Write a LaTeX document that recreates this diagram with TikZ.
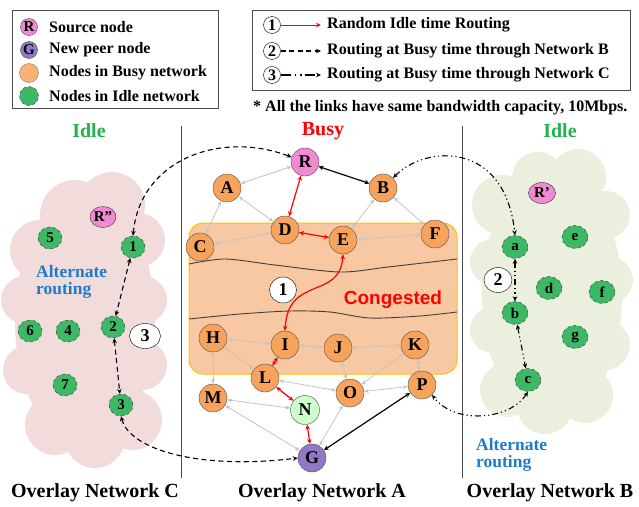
\documentclass[tikz,border=0pt]{standalone}
\usepackage{fontspec}
\setmainfont{Liberation Serif}
\newfontfamily\sansbf{Liberation Sans}
\usetikzlibrary{arrows.meta,shapes.geometric}
\definecolor{nodeor}{HTML}{F8A35C}
\definecolor{nodegr}{HTML}{3DB866}
\definecolor{nodepk}{HTML}{F28AD3}
\definecolor{nodepu}{HTML}{9478C8}
\definecolor{nodelg}{HTML}{CCFFCC}
\definecolor{cloudpk}{HTML}{F2DCDB}
\definecolor{cloudgr}{HTML}{EBF0DE}
\definecolor{congf}{HTML}{F8C8A2}
\definecolor{congb}{HTML}{FFC000}
\definecolor{idlegr}{HTML}{22B14C}
\definecolor{altblue}{HTML}{1F7BC8}
\definecolor{edgegray}{HTML}{C4C4C4}
\tikzset{
  fs/.style={font=\fontsize{#1}{#1}\selectfont\bfseries},
  bnode/.style={circle,draw=black!70,fill=nodeor,minimum size=28pt,inner sep=0pt,fs=18},
  gnode/.style={ellipse,draw=black!80,dashed,fill=nodegr,minimum width=24pt,minimum height=22pt,inner sep=0pt,fs=15},
  rgnode/.style={gnode,minimum width=26pt,minimum height=23pt},
  lblc/.style={ellipse,draw=black,fill=white,inner sep=0pt,minimum width=27pt,minimum height=26pt,fs=18},
  gedge/.style={draw=edgegray,line width=0.8pt,{Stealth[length=5pt,width=4pt]}-{Stealth[length=5pt,width=4pt]}},
  redge/.style={draw=red,line width=1.2pt,{Stealth[length=5pt,width=4.5pt]}-{Stealth[length=5pt,width=4.5pt]}},
  kedge/.style={draw=black,line width=1.2pt,{Stealth[length=5pt,width=4.5pt]}-{Stealth[length=5pt,width=4.5pt]}},
  dlink/.style={draw=black,line width=1.1pt,dash pattern=on 5pt off 3.5pt,{Stealth[length=5pt,width=4.5pt]}-{Stealth[length=5pt,width=4.5pt]}},
  ddlink/.style={draw=black,line width=1.1pt,dash pattern=on 6pt off 3pt on 1.2pt off 3pt on 1.2pt off 3pt,{Stealth[length=5pt,width=4.5pt]}-{Stealth[length=5pt,width=4.5pt]}},
  legbox/.style={draw=black!70,line width=0.8pt},
  legtxt/.style={anchor=west,inner sep=0pt,fs=16},
  legc/.style={circle,draw=black,fill=white,inner sep=0pt,minimum size=17pt,fs=16},
}
\begin{document}
\begin{tikzpicture}[x=1pt,y=-1pt]
\useasboundingbox (0,0) rectangle (639,506);
% clouds
\begin{scope}
\fill[cloudpk] (85,320) ellipse [x radius=70pt,y radius=128pt];
\foreach \cx/\cy/\r in {40/250/30,75/215/35,112/205/33,138/240/27,143/300/24,142/365/25,132/420/30,95/438/30,55/425/30,27/370/24,25/300/24}
  \fill[cloudpk] (\cx,\cy) circle[radius=\r pt];
\fill[cloudgr] (552,295) ellipse [x radius=70pt,y radius=125pt];
\foreach \cx/\cy/\r in {502/205/30,538/178/26,578/177/28,606/215/24,610/280/23,605/345/25,585/395/28,545/406/28,507/390/27,493/330/23,493/262/23}
  \fill[cloudgr] (\cx,\cy) circle[radius=\r pt];
\end{scope}
% congested region
\draw[fill=congf,draw=congb,line width=1pt,rounded corners=14pt] (189,223) rectangle (457,374);
\draw[black!75,line width=0.9pt] plot[smooth] coordinates {(189,264) (225,259) (275,265) (340,272) (388,267) (457,259)};
\draw[black!75,line width=0.9pt] plot[smooth] coordinates {(189,319) (240,314) (290,311) (330,312) (370,318) (420,316) (457,312)};
\node[text=red,font=\sansbf\fontsize{19}{19}\selectfont\bfseries] (cong) at (393,300) {Congested};
% separators
\draw[black!70,line width=0.8pt] (181,126) -- (181,478);
\draw[black!70,line width=0.8pt] (462,126) -- (462,478);
% titles
\node[fs=20,text=idlegr] (t1) at (89,131) {Idle};
\node[fs=20,text=red] (t2) at (323,131) {Busy};
\node[fs=20,text=idlegr] (t3) at (560,131) {Idle};
\node[fs=20] (b1) at (95,493) {Overlay Network C};
\node[fs=20] (b2) at (322,493) {Overlay Network A};
\node[fs=20] (b3) at (550,493) {Overlay Network B};
\node[fs=17.5,text=altblue,align=left,anchor=north west,inner sep=0pt] (alt1) at (36,265) {Alternate\\routing};
\node[fs=17.5,text=altblue,align=left,anchor=north west,inner sep=0pt] (alt2) at (476,438) {Alternate\\routing};
% legend 1
\draw[legbox] (12,10) rectangle (218,108);
\node[circle,draw=black!70,fill=nodepk,minimum size=17pt,inner sep=0pt,fs=15] (lR) at (29,27) {R};
\node[circle,draw=black!70,fill=nodepu,minimum size=17pt,inner sep=0pt,fs=15] (lG) at (29,50) {G};
\node[circle,draw=black!50,fill=nodeor!85,minimum size=19pt,inner sep=0pt] (lO) at (29,73) {};
\node[circle,draw=black!80,dashed,fill=nodegr,minimum size=19pt,inner sep=0pt] (lI) at (29,96) {};
\node[legtxt] (lt1) at (49,27) {Source node};
\node[legtxt] (lt2) at (49,50) {New peer node};
\node[legtxt] (lt3) at (49,73) {Nodes in Busy network};
\node[legtxt] (lt4) at (49,96) {Nodes in Idle network};
% legend 2
\draw[legbox] (252,10) rectangle (630,90);
\node[legc] (l1) at (272,25) {1};
\node[legc] (l2) at (272,51) {2};
\node[legc] (l3) at (272,75) {3};
\coordinate (l1e) at (321,25);
\coordinate (l2e) at (321,51);
\coordinate (l3e) at (321,75);
\draw[red,line width=1pt,-{Stealth[length=5pt,width=4.5pt]}] (l1) -- (l1e);
\draw[black,line width=1.1pt,dash pattern=on 5pt off 3.5pt,-{Stealth[length=5pt,width=4.5pt]}] (l2) -- (l2e);
\draw[black,line width=1.1pt,dash pattern=on 10pt off 4pt on 1.5pt off 4pt on 1.5pt off 3pt,-{Stealth[length=5pt,width=4.5pt]}] (l3) -- (l3e);
\node[legtxt] (lt5) at (327,25) {Random Idle time Routing};
\node[legtxt] (lt6) at (327,51) {Routing at Busy time through Network B};
\node[legtxt] (lt7) at (327,75) {Routing at Busy time through Network C};
\node[legtxt] (foot) at (253,108) {* All the links have same bandwidth capacity, 10Mbps.};
% middle nodes
\node[bnode,fill=nodepk] (R) at (305,162) {R};
\node[bnode] (A) at (227,188) {A};
\node[bnode] (B) at (383,188) {B};
\node[bnode] (D) at (285,230) {D};
\node[bnode] (E) at (343,240) {E};
\node[bnode] (C) at (200,247) {C};
\node[bnode] (F) at (435,234) {F};
\node[bnode] (H) at (213,338) {H};
\node[bnode] (I) at (285,345) {I};
\node[bnode] (J) at (338,348) {J};
\node[bnode] (K) at (415,345) {K};
\node[bnode] (L) at (265,378) {L};
\node[bnode] (O) at (350,393) {O};
\node[bnode] (P) at (422,385) {P};
\node[bnode] (M) at (213,398) {M};
\node[bnode,fill=nodelg,minimum size=29pt] (N) at (305,410) {N};
\node[bnode,fill=nodepu] (G) at (312,458) {G};
\node[lblc] (c1) at (283,290) {1};
% left nodes
\node[gnode,fill=nodepk,solid,minimum width=26pt,minimum height=21pt] (Rpp) at (103,217) {R''};
\node[gnode] (n5) at (50,238) {5};
\node[gnode] (n1) at (133,247) {1};
\node[gnode] (n6) at (30,331) {6};
\node[gnode] (n4) at (68,331) {4};
\node[gnode] (n2) at (113,327) {2};
\node[gnode] (n7) at (65,385) {7};
\node[gnode] (n3) at (121,405) {3};
\node[lblc,minimum width=31pt,minimum height=25pt] (c3) at (145,336) {3};
% right nodes
\node[rgnode,fill=nodepk,solid,minimum width=27pt,minimum height=21pt] (Rp) at (542,193) {R’};
\node[rgnode] (ne) at (575,237) {e};
\node[rgnode] (na) at (515,247) {a};
\node[rgnode] (nd) at (549,288) {d};
\node[rgnode] (nf) at (602,292) {f};
\node[rgnode] (nb) at (515,313) {b};
\node[rgnode] (ng) at (575,337) {g};
\node[rgnode] (nc) at (528,380) {c};
\node[lblc,minimum width=28pt,minimum height=25pt] (c2) at (498,280) {2};
% gray edges
\foreach \u/\v in {R/A,A/D,A/C,D/C,B/E,B/F,E/F,H/I,I/J,J/K,H/L,H/M,J/O,K/O,K/P,L/O,O/P,M/N,M/G,O/G}
  \draw[gedge] (\u) -- (\v);
% red edges
\draw[redge] (R) -- (D);
\draw[redge] (D) -- (E);
\draw[redge] (E.south) .. controls (340,300) and (288,275) .. (I.north);
\draw[redge] (I) -- (L);
\draw[redge] (L) -- (N);
\draw[redge] (N) -- (G);
% black edges
\draw[kedge] (R) -- (B);
\draw[kedge] (P) -- (G);
% dashed (network C)
\draw[dlink] (n1.north) .. controls (140,160) and (220,130) .. (R.160);
\draw[dlink] (n1) -- (n2);
\draw[dlink] (n2) -- (n3);
\draw[dlink] (n3.south) .. controls (130,450) and (200,470) .. (G.west);
% dash-dot (network B)
\draw[ddlink] (B.north east) .. controls (425,145) and (505,140) .. (na.north);
\draw[ddlink] (na) -- (nb);
\draw[ddlink] (nb) -- (nc);
\draw[ddlink] (nc.south) .. controls (510,420) and (455,425) .. (P.south east);
\end{tikzpicture}
\end{document}
